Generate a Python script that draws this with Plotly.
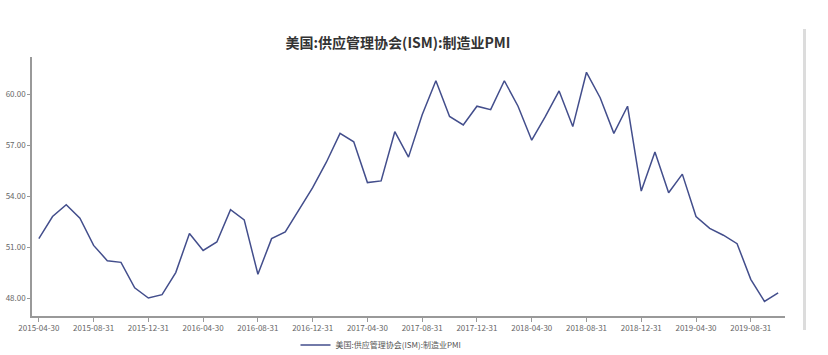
import plotly.graph_objects as go

dates = ["2015-04-30","2015-05-31","2015-06-30","2015-07-31","2015-08-31","2015-09-30","2015-10-31","2015-11-30","2015-12-31",
         "2016-01-31","2016-02-29","2016-03-31","2016-04-30","2016-05-31","2016-06-30","2016-07-31","2016-08-31","2016-09-30","2016-10-31","2016-11-30","2016-12-31",
         "2017-01-31","2017-02-28","2017-03-31","2017-04-30","2017-05-31","2017-06-30","2017-07-31","2017-08-31","2017-09-30","2017-10-31","2017-11-30","2017-12-31",
         "2018-01-31","2018-02-28","2018-03-31","2018-04-30","2018-05-31","2018-06-30","2018-07-31","2018-08-31","2018-09-30","2018-10-31","2018-11-30","2018-12-31",
         "2019-01-31","2019-02-28","2019-03-31","2019-04-30","2019-05-31","2019-06-30","2019-07-31","2019-08-31","2019-09-30","2019-10-31"]
pmi = [51.5,52.8,53.5,52.7,51.1,50.2,50.1,48.6,48.0,
       48.2,49.5,51.8,50.8,51.3,53.2,52.6,49.4,51.5,51.9,53.2,54.5,
       56.0,57.7,57.2,54.8,54.9,57.8,56.3,58.8,60.8,58.7,58.2,59.3,
       59.1,60.8,59.3,57.3,58.7,60.2,58.1,61.3,59.8,57.7,59.3,54.3,
       56.6,54.2,55.3,52.8,52.1,51.7,51.2,49.1,47.8,48.3]
y_ticks = [48, 51, 54, 57, 60]
series_name = "美国:供应管理协会(ISM):制造业PMI"
title = "美国:供应管理协会(ISM):制造业PMI"

x_ticks = dates[::4]

font = "Noto Sans CJK SC, Noto Sans, sans-serif"
fig = go.Figure()
fig.add_trace(go.Scatter(x=dates, y=pmi, mode="lines", name=series_name,
                         line=dict(color="#434e8c", width=1.5)))
fig.update_layout(
    width=828, height=355,
    margin=dict(l=32, r=43, t=57, b=39, autoexpand=False),
    paper_bgcolor="white", plot_bgcolor="white",
    font=dict(family=font, size=8, color="#666"),
    title=dict(text="<b>" + title + "</b>", x=398/828, xanchor="center", y=1-43/355, yanchor="middle",
               font=dict(size=14, color="#333", family=font)),
    showlegend=True,
    legend=dict(orientation="h", x=381/828, xanchor="center", xref="container", yref="container",
                y=1-345/355, yanchor="middle", itemwidth=30,
                font=dict(size=8, color="#555", family=font)),
    shapes=[dict(type="rect", xref="paper", yref="paper", x0=(803-32)/753, x1=(806-32)/753,
                 y0=(355-39-330)/259, y1=(355-39-29)/259, fillcolor="#dcdcdc", line=dict(width=0))],
)
fig.update_xaxes(type="category", range=[-0.5, len(dates)-0.5], tickmode="array", tickvals=x_ticks, ticktext=x_ticks,
                 showgrid=False, showline=True, linecolor="#999", linewidth=1.5, ticks="outside", ticklen=4,
                 tickcolor="#999", tickangle=0, tickfont=dict(size=8, color="#666"), automargin=False)
fig.update_yaxes(range=[46.94, 62.2], tickmode="array", tickvals=y_ticks, tickformat=".2f", showgrid=False,
                 showline=True, linecolor="#999", linewidth=1.5, ticks="outside", ticklen=3, tickcolor="#999",
                 zeroline=False, tickfont=dict(size=8, color="#666"), automargin=False)
fig.write_html("out.html", config={"displayModeBar": False},
               post_script="document.body.style.margin='0';document.body.style.overflow='hidden';")
